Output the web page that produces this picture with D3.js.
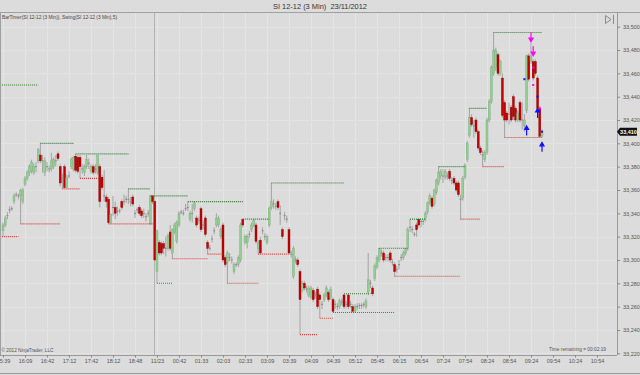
<!DOCTYPE html>
<html>
<head>
<meta charset="utf-8">
<script src="https://cdn.jsdelivr.net/npm/d3@7"></script>
<style>
  body { margin: 0; background: #dcdcdc; }
  svg { display: block; font-family: "Liberation Sans", Arial, sans-serif; }
</style>
</head>
<body>
<svg id="chart" width="640" height="375"></svg>
<script>
// 3 min bars, SI 12-12
var opens = [
  33325,33330,33338,33343,33344,33350,33356,33355,33355,33350,
  33365,33370,33375,33376,33375,33380,33385,33390,33385,33375,
  33380,33378,33378,33380,33385,33391,33380,33370,33380,33362,
  33372,33380,33378,33389,33388,33388,33378,33375,33380,33383,
  33376,33380,33378,33375,33380,33371,33355,33354,33352,33332,
  33345,33345,33342,33342,33350,33350,33352,33352,33350,33354,
  33340,33343,33345,33342,33340,33337,33340,33331,33355,33350,
  33290,33315,33314,33314,33310,33310,33324,33306,33324,33316,
  33330,33341,33340,33344,33345,33335,33340,33344,33336,33334,
  33344,33330,33336,33315,33310,33318,33325,33330,33330,33320,
  33330,33302,33298,33302,33300,33290,33296,33296,33300,33335,
  33315,33315,33322,33326,33330,33330,33310,33317,33325,33320,
  33315,33330,33345,33348,33346,33350,33340,33326,33338,33335,
  33326,33305,33286,33300,33300,33290,33274,33280,33275,33270,
  33268,33274,33270,33275,33270,33262,33266,33270,33272,33268,
  33266,33262,33260,33260,33264,33270,33262,33270,33262,33260,
  33256,33260,33261,33261,33262,33260,33272,33280,33276,33284,
  33294,33300,33306,33306,33302,33302,33306,33298,33296,33292,
  33296,33302,33302,33306,33310,33328,33326,33322,33330,33335,
  33333,33333,33335,33341,33349,33353,33348,33358,33366,33372,
  33372,33371,33372,33376,33368,33370,33366,33366,33352,33353,
  33371,33386,33407,33422,33415,33420,33410,33396,33390,33386,
  33392,33420,33436,33460,33465,33476,33460,33456,33435,33426,
  33425,33431,33440,33430,33420,33435,33420,33415,33428,33475,
  33470,33470,33470,33456,33430,33406
];
var highs = [
  33332,33338,33341,33346,33346,33357,33358,33357,33361,33362,
  33372,33377,33382,33386,33383,33384,33396,33400,33390,33388,
  33384,33381,33392,33388,33390,33393,33382,33374,33382,33373,
  33376,33388,33389,33391,33390,33390,33382,33382,33390,33387,
  33382,33382,33382,33390,33382,33373,33377,33356,33354,33340,
  33355,33350,33346,33344,33352,33356,33355,33361,33354,33356,
  33343,33345,33347,33344,33344,33340,33343,33355,33355,33351,
  33326,33317,33316,33316,33320,33323,33330,33327,33332,33334,
  33342,33343,33343,33348,33350,33342,33348,33350,33338,33337,
  33346,33334,33338,33317,33313,33321,33328,33340,33338,33328,
  33332,33304,33308,33306,33303,33298,33298,33304,33332,33335,
  33322,33322,33325,33332,33335,33332,33317,33320,33328,33323,
  33322,33346,33366,33352,33349,33352,33347,33328,33341,33338,
  33328,33308,33312,33303,33302,33292,33282,33282,33278,33278,
  33278,33276,33273,33277,33272,33265,33272,33278,33274,33277,
  33268,33265,33263,33267,33267,33271,33265,33271,33265,33262,
  33262,33263,33263,33263,33264,33267,33306,33283,33278,33297,
  33304,33310,33309,33308,33305,33305,33308,33301,33298,33295,
  33300,33305,33308,33310,33328,33335,33329,33324,33332,33335,
  33335,33335,33342,33350,33357,33355,33361,33370,33380,33378,
  33378,33378,33375,33378,33371,33372,33368,33368,33356,33372,
  33383,33402,33430,33425,33420,33422,33412,33398,33394,33394,
  33422,33438,33467,33495,33482,33478,33472,33460,33437,33428,
  33435,33433,33442,33432,33428,33437,33435,33425,33476,33477,
  33486,33472,33472,33458,33432,33412
];
var lows = [
  33320,33328,33335,33340,33342,33348,33354,33352,33331,33348,
  33363,33368,33372,33374,33373,33375,33383,33383,33375,33372,
  33376,33375,33376,33378,33380,33385,33363,33361,33362,33362,
  33370,33378,33376,33375,33374,33370,33374,33372,33378,33378,
  33374,33373,33374,33373,33345,33360,33350,33345,33331,33331,
  33338,33335,33338,33340,33343,33347,33349,33348,33346,33346,
  33336,33340,33338,33336,33336,33333,33337,33330,33348,33299,
  33280,33304,33304,33305,33303,33308,33308,33301,33322,33314,
  33328,33339,33338,33342,33342,33333,33332,33342,33328,33331,
  33324,33326,33320,33305,33308,33315,33322,33328,33328,33318,
  33298,33294,33280,33299,33297,33288,33294,33294,33298,33328,
  33313,33310,33319,33324,33328,33314,33305,33305,33322,33317,
  33313,33328,33343,33344,33343,33343,33330,33318,33334,33332,
  33305,33302,33284,33297,33294,33236,33272,33274,33272,33268,
  33266,33264,33267,33258,33250,33258,33264,33268,33264,33266,
  33255,33258,33257,33258,33261,33258,33259,33258,33259,33255,
  33255,33257,33258,33258,33259,33258,33270,33276,33269,33282,
  33292,33298,33303,33298,33299,33299,33298,33295,33286,33289,
  33292,33299,33300,33304,33308,33324,33323,33320,33320,33328,
  33328,33330,33333,33339,33347,33344,33346,33356,33364,33369,
  33366,33369,33369,33368,33365,33364,33358,33354,33335,33351,
  33369,33384,33405,33414,33405,33408,33394,33390,33380,33384,
  33390,33418,33434,33458,33462,33458,33458,33422,33405,33418,
  33416,33418,33420,33418,33418,33418,33412,33410,33426,33453,
  33468,33454,33458,33428,33405,33405
];
var closes = [
  33330,33336,33338,33343,33344,33355,33356,33355,33360,33360,
  33370,33375,33380,33384,33380,33380,33395,33385,33385,33385,
  33380,33378,33385,33386,33385,33387,33366,33370,33362,33371,
  33372,33386,33388,33377,33376,33380,33378,33380,33386,33383,
  33380,33375,33378,33390,33350,33362,33355,33350,33332,33339,
  33345,33340,33342,33342,33345,33350,33352,33352,33350,33348,
  33340,33343,33340,33338,33340,33337,33340,33355,33350,33300,
  33325,33306,33306,33310,33310,33321,33310,33326,33330,33332,
  33340,33341,33340,33344,33345,33340,33340,33349,33330,33334,
  33326,33330,33322,33310,33310,33318,33325,33336,33336,33326,
  33300,33296,33306,33302,33300,33296,33296,33302,33330,33330,
  33320,33320,33322,33330,33334,33316,33315,33306,33325,33320,
  33320,33344,33350,33348,33346,33345,33340,33320,33338,33335,
  33306,33305,33310,33300,33296,33266,33280,33276,33275,33276,
  33276,33266,33270,33260,33266,33262,33270,33276,33266,33275,
  33256,33262,33260,33265,33264,33260,33262,33260,33262,33256,
  33260,33260,33261,33261,33262,33265,33283,33280,33271,33295,
  33302,33310,33306,33300,33302,33302,33300,33298,33290,33292,
  33296,33302,33306,33310,33326,33328,33326,33322,33326,33330,
  33333,33333,33340,33349,33355,33346,33360,33368,33375,33376,
  33372,33376,33372,33370,33368,33366,33360,33356,33352,33370,
  33381,33400,33422,33416,33415,33410,33396,33392,33390,33392,
  33420,33436,33465,33480,33480,33460,33470,33424,33420,33420,
  33425,33420,33423,33420,33426,33420,33420,33420,33475,33455,
  33475,33456,33460,33430,33406,33410
];

// swing indicator levels: [first bar, last bar, price]
var swingHighs = [
  [-0.5,16,33450],[17,32,33400],[33,57,33391],[57,67,33361],[67,84,33355],
  [84,109,33350],[109,121,33335],[122,155,33366],[155,167,33271],[171,184,33310],
  [185,192,33335],[198,210,33380],[212,220,33430],[223,245,33495]
];
var swingLows = [
  [-0.5,7,33320],[8,26,33331],[27,35,33361],[35,44,33370],[48,69,33331],
  [70,77,33280],[77,93,33301],[93,100,33305],[102,116,33280],[116,130,33305],
  [135,143,33236],[144,150,33250],[150,178,33255],[178,208,33286],[208,217,33335],
  [218,228,33380],[228,245,33405]
];
// signal marks: [bar, price]
var pinkArrows = [[240,33491],[241,33479]];
var pinkDots = [[241,33465],[241,33450],[244,33430]];
var blueArrows = [[238,33411],[243,33426],[245,33397]];
var blueDots = [[237,33455],[243,33440],[245,33410]];

var xLabels = ["15:39","16:09","16:42","17:12","17:42","18:12","18:48","11/23","00:42","01:33",
  "02:03","02:33","03:09","03:39","04:09","04:39","05:12","05:45","06:15","06:54",
  "07:24","07:54","08:24","08:54","09:24","09:54","10:24","10:54"];
var yTicks = d3.range(33220, 33501, 20);
var sessionBreak = 68.5;
var lastPrice = 33410;

var svg = d3.select("#chart");
var x = d3.scaleLinear().domain([0, 279]).range([3, 616.8]);
var y = d3.scaleLinear().domain([33220, 33500]).range([353.3, 26.7]);
var xTicks = xLabels.map(function(d, i) { return i * 10; });

svg.append("rect").attr("width", 640).attr("height", 375).attr("fill", "#dcdcdc");

svg.append("defs").append("clipPath").attr("id", "plotclip")
  .append("rect").attr("x", 1).attr("y", 13).attr("width", 616).attr("height", 342);

// grid
var grid = svg.append("g").attr("clip-path", "url(#plotclip)");
grid.selectAll("line.v").data(xTicks).join("line").attr("class", "v")
  .attr("x1", function(d) { return Math.round(x(d)) + 0.5; })
  .attr("x2", function(d) { return Math.round(x(d)) + 0.5; })
  .attr("y1", 13).attr("y2", 355)
  .attr("stroke", "#e5e5e5");
grid.selectAll("line.h").data(yTicks).join("line").attr("class", "h")
  .attr("y1", function(d) { return Math.round(y(d)) + 0.5; })
  .attr("y2", function(d) { return Math.round(y(d)) + 0.5; })
  .attr("x1", 1).attr("x2", 617)
  .attr("stroke", "#e2e2e2");
grid.append("line")
  .attr("x1", Math.round(x(sessionBreak)) + 0.5).attr("x2", Math.round(x(sessionBreak)) + 0.5)
  .attr("y1", 13).attr("y2", 355).attr("stroke", "#b4b4b4");

// frame
svg.append("line").attr("x1", 0).attr("x2", 640).attr("y1", 12.5).attr("y2", 12.5).attr("stroke", "#a0a0a0");
svg.append("line").attr("x1", 0.5).attr("x2", 0.5).attr("y1", 13).attr("y2", 355).attr("stroke", "#a0a0a0");
svg.append("line").attr("x1", 0).attr("x2", 640).attr("y1", 373.5).attr("y2", 373.5).attr("stroke", "#9a9a9a");

// candles
var bars = d3.range(opens.length).map(function(i) {
  return { i: i, o: opens[i], h: highs[i], l: lows[i], c: closes[i] };
});
var cg = svg.append("g").attr("clip-path", "url(#plotclip)");
cg.selectAll("line.wick").data(bars).join("line").attr("class", "wick")
  .attr("x1", function(d) { return x(d.i); })
  .attr("x2", function(d) { return x(d.i); })
  .attr("y1", function(d) { return y(d.h); })
  .attr("y2", function(d) { return y(d.l); })
  .attr("stroke", "#9c9c9c").attr("stroke-width", 0.9);
cg.selectAll("rect.body").data(bars.filter(function(d) { return d.o !== d.c; })).join("rect")
  .attr("class", "body")
  .attr("x", function(d) { return x(d.i) - 1; })
  .attr("width", 2)
  .attr("y", function(d) { return y(Math.max(d.o, d.c)); })
  .attr("height", function(d) { return Math.max(1, Math.abs(y(d.o) - y(d.c))); })
  .attr("fill", function(d) { return d.c > d.o ? "#93cd93" : "#c20000"; })
  .attr("stroke", function(d) { return d.c > d.o ? "#78b078" : "#960000"; })
  .attr("stroke-width", 0.4);
cg.selectAll("line.doji").data(bars.filter(function(d) { return d.o === d.c; })).join("line")
  .attr("class", "doji")
  .attr("x1", function(d) { return x(d.i) - 1; })
  .attr("x2", function(d) { return x(d.i) + 1; })
  .attr("y1", function(d) { return y(d.o); })
  .attr("y2", function(d) { return y(d.o); })
  .attr("stroke", "#8a8a8a").attr("stroke-width", 1);

// swing lines
function swingLines(data, color) {
  cg.selectAll(null).data(data).join("line")
    .attr("x1", function(d) { return x(d[0]); })
    .attr("x2", function(d) { return x(d[1]); })
    .attr("y1", function(d) { return y(d[2]); })
    .attr("y2", function(d) { return y(d[2]); })
    .attr("stroke", color).attr("stroke-width", 1.1)
    .attr("stroke-dasharray", "1,1");
}
swingLines(swingHighs, "#2e7d2e");
swingLines(swingLows, "#e23a3a");

// signal marks
function arrows(data, color, dir) {
  cg.selectAll(null).data(data).join("path")
    .attr("d", function(d) {
      var cx = x(d[0]), cy = y(d[1]);
      return "M" + cx + "," + (cy - 5 * dir) + "V" + (cy + 1 * dir) +
        "M" + (cx - 2) + "," + (cy + 1 * dir) + "L" + cx + "," + (cy + 4.5 * dir) + "L" + (cx + 2) + "," + (cy + 1 * dir) + "Z";
    })
    .attr("stroke", color).attr("fill", color).attr("stroke-width", 1.2);
}
arrows(pinkArrows, "#ff00ff", 1);
arrows(blueArrows, "#1010ff", -1);
cg.selectAll(null).data(pinkDots).join("rect")
  .attr("x", function(d) { return x(d[0]) - 1; }).attr("y", function(d) { return y(d[1]) - 1; })
  .attr("width", 2).attr("height", 2).attr("fill", "#ff00ff");
cg.selectAll(null).data(blueDots).join("rect")
  .attr("x", function(d) { return x(d[0]) - 1; }).attr("y", function(d) { return y(d[1]) - 1; })
  .attr("width", 2).attr("height", 2).attr("fill", "#1010ff");

// axes
var yAxis = svg.append("g").attr("transform", "translate(617,0)")
  .call(d3.axisRight(y).tickValues(yTicks).tickSize(3).tickPadding(3).tickFormat(d3.format(",")));
yAxis.select(".domain").attr("d", "M0.5,13V355").attr("stroke", "#9a9a9a");
yAxis.selectAll(".tick line").attr("stroke", "#888");
yAxis.selectAll("text").attr("font-size", 5.5).attr("fill", "#555").attr("font-family", "Liberation Sans, Arial, sans-serif");

var xAxis = svg.append("g").attr("transform", "translate(0,355)")
  .call(d3.axisBottom(x).tickValues(xTicks).tickSize(2.5).tickPadding(1.5)
    .tickFormat(function(d, i) { return xLabels[i]; }));
xAxis.select(".domain").attr("d", "M0,0.5H617").attr("stroke", "#9a9a9a");
xAxis.selectAll(".tick line").attr("stroke", "#888");
xAxis.selectAll("text").attr("font-size", 5.5).attr("fill", "#555").attr("font-family", "Liberation Sans, Arial, sans-serif");

// last price tag
var ly = y(lastPrice);
svg.append("path")
  .attr("d", "M617," + ly + "l3,-4h17v8h-17z")
  .attr("fill", "#111");
svg.append("text").attr("x", 628.5).attr("y", ly + 2).attr("text-anchor", "middle")
  .attr("font-size", 5.5).attr("font-weight", "bold").attr("fill", "#fff").text("33,410");

// texts
svg.append("text").attr("x", 320).attr("y", 9).attr("text-anchor", "middle")
  .attr("font-size", 7.5).attr("fill", "#333")
  .attr("textLength", 94).attr("lengthAdjust", "spacingAndGlyphs")
  .text("SI 12-12 (3 Min)\u00a0\u00a023/11/2012");
svg.append("text").attr("x", 2).attr("y", 18.5)
  .attr("font-size", 5.3).attr("fill", "#444")
  .attr("textLength", 115).attr("lengthAdjust", "spacingAndGlyphs")
  .text("BarTimer(SI 12-12 (3 Min)), Swing(SI 12-12 (3 Min),5)");
svg.append("text").attr("x", 1.5).attr("y", 352)
  .attr("font-size", 5.3).attr("fill", "#555")
  .attr("textLength", 52).attr("lengthAdjust", "spacingAndGlyphs")
  .text("© 2012 NinjaTrader, LLC");
svg.append("text").attr("x", 606).attr("y", 350.5).attr("text-anchor", "end")
  .attr("font-size", 5.3).attr("fill", "#555")
  .attr("textLength", 57).attr("lengthAdjust", "spacingAndGlyphs")
  .text("Time remaining = 00:02:19");

// scroll-to-end icon
svg.append("path").attr("d", "M605.5,15.5L611,19.5L605.5,23.5Z M613.5,15V24")
  .attr("fill", "none").attr("stroke", "#808080").attr("stroke-width", 0.9);
</script>
</body>
</html>
